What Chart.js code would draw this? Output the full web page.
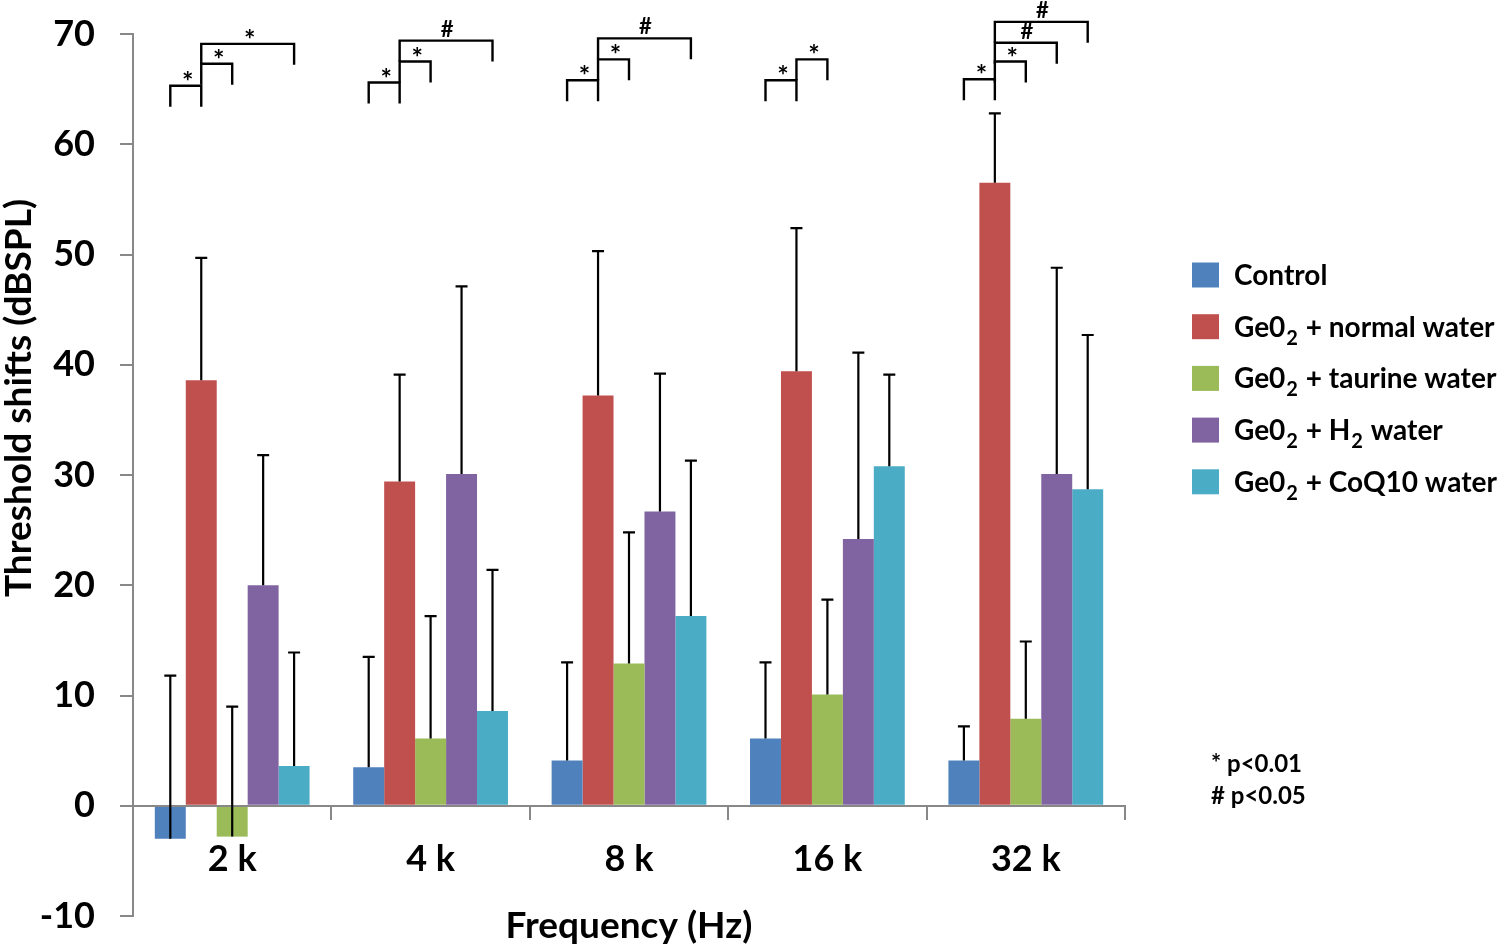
<!DOCTYPE html>
<html>
<head>
<meta charset="utf-8">
<script src="https://cdn.jsdelivr.net/npm/chart.js@4/dist/chart.umd.min.js"></script>
<style>
  body { margin: 0; background: #fff; }
  #wrap { width: 1500px; height: 946px; }
</style>
</head>
<body>
<div id="wrap"><canvas id="thresholdChart"></canvas></div>
<script>
const categories = ['2 k', '4 k', '8 k', '16 k', '32 k'];
const seriesNames = ['Control', 'Ge0₂ + normal water', 'Ge0₂ + taurine water', 'Ge0₂ + H₂ water', 'Ge0₂ + CoQ10 water'];
const seriesColors = ['#4F81BD', '#C0504D', '#9BBB59', '#8064A2', '#4BACC6'];

// mean threshold shifts (dB SPL)
const controlValues = [-3.0, 3.5, 4.1, 6.1, 4.1];
const normalValues = [38.6, 29.4, 37.2, 39.4, 56.5];
const taurineValues = [-2.8, 6.1, 12.9, 10.1, 7.9];
const h2Values = [20.0, 30.1, 26.7, 24.2, 30.1];
const coq10Values = [3.6, 8.6, 17.2, 30.8, 28.7];

// standard deviations (upper error bars only)
const controlSD = [14.8, 10.0, 8.9, 6.9, 3.1];
const normalSD = [11.1, 9.7, 13.1, 13.0, 6.3];
const taurineSD = [11.8, 11.1, 11.9, 8.6, 7.0];
const h2SD = [11.8, 17.0, 12.5, 16.9, 18.7];
const coq10SD = [10.3, 12.8, 14.1, 8.3, 14.0];

const yTicks = [-10, 0, 10, 20, 30, 40, 50, 60, 70];

// significance brackets: group index, from series, to series, level, mark
const sigGroup = [0, 0, 0, 1, 1, 1, 2, 2, 2, 3, 3, 4, 4, 4, 4];
const sigFrom  = [0, 1, 1, 0, 1, 1, 0, 1, 1, 0, 1, 0, 1, 1, 1];
const sigTo    = [1, 2, 4, 1, 2, 4, 1, 2, 4, 1, 2, 1, 2, 3, 4];
const sigLevel = [65.3, 67.3, 69.1, 65.6, 67.5, 69.4, 65.8, 67.7, 69.6, 65.8, 67.7, 65.9, 67.5, 69.2, 71.1];
const sigMark  = ['*', '*', '*', '*', '*', '#', '*', '*', '#', '*', '*', '*', '*', '#', '#'];
const legDrop = 1.9;

const noteLines = ['* p<0.01', '# p<0.05'];

const seriesValues = [controlValues, normalValues, taurineValues, h2Values, coq10Values];
const seriesSD = [controlSD, normalSD, taurineSD, h2SD, coq10SD];

const FONT = 'Lato, "Liberation Sans", sans-serif';
const WEIGHT = 'bold';

function drawRich(ctx, text, x, y, size) {
  // draws text, turning "₂" into a real subscript 2
  let cx = x;
  let buf = '';
  const flush = () => {
    if (!buf) return;
    ctx.font = WEIGHT + ' ' + size + 'px ' + FONT;
    ctx.fillText(buf, cx, y);
    cx += ctx.measureText(buf).width;
    buf = '';
  };
  for (const ch of text) {
    if (ch === '₂') {
      flush();
      const sub = Math.round(size * 0.72);
      ctx.font = WEIGHT + ' ' + sub + 'px ' + FONT;
      ctx.fillText('2', cx + 1, y + 8);
      cx += ctx.measureText('2').width + 2;
    } else {
      buf += ch;
    }
  }
  flush();
}

const errorBars = {
  id: 'errorBars',
  afterDraw(chart) {
    const ctx = chart.ctx;
    const yScale = chart.scales.y;
    ctx.save();
    ctx.strokeStyle = '#000';
    ctx.lineWidth = 2.2;
    chart.data.datasets.forEach((ds, i) => {
      const meta = chart.getDatasetMeta(i);
      meta.data.forEach((bar, j) => {
        const top = yScale.getPixelForValue(ds.data[j] + seriesSD[i][j]);
        ctx.beginPath();
        ctx.moveTo(bar.x, bar.y);
        ctx.lineTo(bar.x, top);
        ctx.moveTo(bar.x - 6, top);
        ctx.lineTo(bar.x + 6, top);
        ctx.stroke();
      });
    });
    ctx.restore();
  }
};

const brackets = {
  id: 'brackets',
  afterDraw(chart) {
    const ctx = chart.ctx;
    const yScale = chart.scales.y;
    ctx.save();
    ctx.strokeStyle = '#000';
    ctx.fillStyle = '#000';
    ctx.lineWidth = 2.4;
    ctx.textAlign = 'center';
    ctx.textBaseline = 'alphabetic';
    sigGroup.forEach((g, k) => {
      const x1 = chart.getDatasetMeta(sigFrom[k]).data[g].x;
      const x2 = chart.getDatasetMeta(sigTo[k]).data[g].x;
      const y = yScale.getPixelForValue(sigLevel[k]);
      const yLeg = yScale.getPixelForValue(sigLevel[k] - legDrop);
      ctx.beginPath();
      ctx.moveTo(x1, yLeg);
      ctx.lineTo(x1, y);
      ctx.lineTo(x2, y);
      ctx.lineTo(x2, yLeg);
      ctx.stroke();
      if (sigMark[k] === '*') {
        ctx.font = 'bold 27px ' + FONT;
        ctx.fillText('*', (x1 + x2) / 2 + 2, y + 5);
      } else {
        ctx.font = 'bold 22px ' + FONT;
        ctx.fillText('#', (x1 + x2) / 2 + 1, y - 4);
      }
    });
    ctx.restore();
  }
};

const annotations = {
  id: 'annotations',
  afterDraw(chart) {
    const ctx = chart.ctx;
    const area = chart.chartArea;
    ctx.save();
    ctx.fillStyle = '#000';

    // axis titles
    ctx.font = WEIGHT + ' 37px ' + FONT;
    ctx.textAlign = 'center';
    ctx.textBaseline = 'middle';
    ctx.fillText('Frequency (Hz)', (area.left + area.right) / 2, 926);
    ctx.save();
    ctx.translate(19, 398);
    ctx.rotate(-Math.PI / 2);
    ctx.fillText('Threshold shifts (dBSPL)', 0, 0);
    ctx.restore();

    // legend
    ctx.textAlign = 'left';
    ctx.textBaseline = 'alphabetic';
    chart.data.datasets.forEach((ds, i) => {
      const cy = 275 + i * 51.7;
      ctx.fillStyle = ds.backgroundColor;
      ctx.fillRect(1192, cy - 12.5, 27, 25);
      ctx.fillStyle = '#000';
      drawRich(ctx, ds.label, 1234, cy + 10, 28);
    });

    // p-value notes
    ctx.font = WEIGHT + ' 24px ' + FONT;
    noteLines.forEach((t, i) => {
      ctx.fillText(t, 1211, 772 + i * 32);
    });
    ctx.restore();
  }
};

const ctx = document.getElementById('thresholdChart').getContext('2d');
const thresholdChart = new Chart(ctx, {
  type: 'bar',
  data: {
    labels: categories,
    datasets: seriesNames.map((name, i) => ({
      label: name,
      data: seriesValues[i],
      backgroundColor: seriesColors[i],
      borderWidth: 0,
      barPercentage: 1,
      categoryPercentage: 0.78
    }))
  },
  options: {
    responsive: true,
    maintainAspectRatio: false,
    animation: false,
    layout: { padding: { top: 34, right: 375, bottom: 30, left: 0 } },
    plugins: {
      legend: { display: false },
      tooltip: { enabled: false }
    },
    scales: {
      x: {
        position: { y: 0 },
        grid: { offset: true, drawOnChartArea: false, drawTicks: true, tickLength: 13, color: '#888', lineWidth: 2 },
        border: { color: '#888', width: 2, z: 1 },
        ticks: { color: '#000', font: { family: FONT, size: 36, weight: WEIGHT }, padding: 19, maxRotation: 0 }
      },
      y: {
        min: yTicks[0],
        max: yTicks[yTicks.length - 1],
        afterBuildTicks: (scale) => { scale.ticks = yTicks.map(v => ({ value: v })); },
        afterFit: (scale) => {
          scale.width = 133;
          scale.paddingTop = 0;
          scale.paddingBottom = 0;
        },
        grid: { drawOnChartArea: false, drawTicks: true, tickLength: 13, color: '#888', lineWidth: 2 },
        border: { color: '#888', width: 2 },
        ticks: { color: '#000', font: { family: FONT, size: 36, weight: WEIGHT }, padding: 25 }
      }
    }
  },
  plugins: [errorBars, brackets, annotations]
});
</script>
</body>
</html>
